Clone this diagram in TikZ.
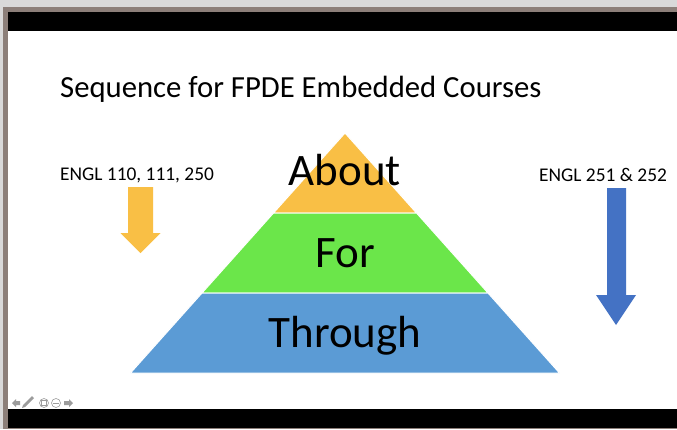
\documentclass[tikz,border=0pt]{standalone}
\usepackage{fontspec}
\setmainfont{Carlito}
\usepackage{tikz}
\usetikzlibrary{
    calc,
    positioning
}
\definecolor{aboutgold}{HTML}{F9BF45}
\definecolor{forgreen}{HTML}{6BE64A}
\definecolor{throughblue}{HTML}{5B9BD5}
\definecolor{arrowblue}{HTML}{4472C4}
\definecolor{framebrown}{HTML}{8C7F79}
\definecolor{icongray}{HTML}{9C9C9C}
\tikzset{
    % Pyramid layer:
    layer/.style = {
        draw = white,
        line width = 1pt,
        line join = miter
    },
    % Word inside a layer:
    layer text/.style = {
        anchor = base,
        inner sep = 0pt,
        font = \fontsize{45}{45}\selectfont
    },
    % Course numbers above the arrows:
    course label/.style = {
        anchor = base west,
        inner sep = 0pt,
        font = \fontsize{19.4}{19.4}\selectfont
    },
    % Player controls:
    icon/.style = {
        fill = icongray,
        draw = none
    }
}

\begin{document}
\begin{tikzpicture}[x=1pt, y=-1pt]
    \useasboundingbox (0, 0) rectangle (677, 429);
    % Window frame and slide bars.
    \fill [gray!30] (0, 0) rectangle (677, 429);
    \fill [framebrown] (3, 7) rectangle (677, 429);
    \fill [black] (8, 12) rectangle (677, 31);
    \fill [white] (8, 31) rectangle (677, 409);
    \fill [black] (8, 409) rectangle (677, 428);
    \node (title) [anchor=base west, inner sep=0pt, font=\fontsize{30.7}{30.7}\selectfont]
        at (60, 97) {Sequence for FPDE Embedded Courses};
    % Pyramid, top to bottom.
    \path [layer, fill=aboutgold] (345, 133) -- (416.5, 213) -- (273.5, 213) -- cycle;
    \path [layer, fill=forgreen] (273.5, 213) -- (416.5, 213) -- (488, 293) -- (202, 293) -- cycle;
    \path [layer, fill=throughblue] (202, 293) -- (488, 293) -- (559.5, 373) -- (130.5, 373) -- cycle;
    \node (about) [layer text] at (345, 185) {About};
    \node (for) [layer text] at (345, 267) {For};
    \node (through) [layer text] at (345, 347) {Through};
    % Course labels and the arrows under them.
    \node (left label) [course label] at (60, 180) {ENGL 110, 111, 250};
    \node (right label) [course label] at (539, 181) {ENGL 251 \& 252};
    \fill [aboutgold]
        (128, 187) -- (153, 187) -- (153, 233) -- (160.5, 233)
        -- (140.5, 253) -- (120.5, 233) -- (128, 233) -- cycle;
    \fill [arrowblue]
        (607, 188) -- (626, 188) -- (626, 295) -- (636, 295)
        -- (616, 325) -- (596, 295) -- (607, 295) -- cycle;
    % Controls in the lower left corner.
    \fill [icon] (12, 403) -- (16, 399) -- (16, 401) -- (20, 401)
        -- (20, 405) -- (16, 405) -- (16, 407) -- cycle;
    \fill [icon] (22, 408) -- (23, 405) -- (32, 396) -- (34, 398) -- (25, 407) -- cycle;
    \draw [icongray, line width=0.6pt] (44, 403) circle (4.5);
    \draw [icongray, line width=0.5pt] (41.5, 400.5) rectangle (46.5, 405);
    \draw [icongray, line width=0.6pt] (56, 403) circle (4.5);
    \draw [icongray, line width=0.5pt] (53, 403) -- (59, 403);
    \fill [icon] (73, 403) -- (69, 399) -- (69, 401) -- (64, 401)
        -- (64, 405) -- (69, 405) -- (69, 407) -- cycle;
\end{tikzpicture}
\end{document}
